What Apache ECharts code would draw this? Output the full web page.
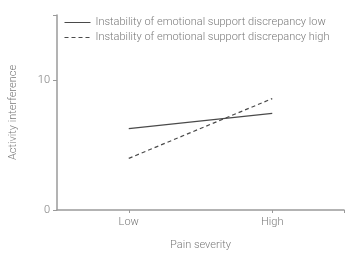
<!DOCTYPE html>
<html><head><meta charset="utf-8">
<script src="https://cdn.jsdelivr.net/npm/echarts@6/dist/echarts.min.js"></script>
<style>html,body{margin:0;padding:0;background:#fff}#c{width:346px;height:256px}</style>
</head><body><div id="c"></div>
<script>
const categories = ['Low', 'High'];
const seriesNames = ['Instability of emotional support discrepancy low', 'Instability of emotional support discrepancy high'];
const lowValues = [6.26, 7.43];
const highValues = [3.97, 8.57];
const yTickLabels = [0, 10];

const font = 'Roboto';
const textColor = '#7a7a7a';
const axisColor = '#9a9a9a';
const chart = echarts.init(document.getElementById('c'));
const toPairs = vals => vals.map((v, i) => [i, v]);
chart.setOption({
  animation: false,
  textStyle: { fontFamily: font },
  grid: { left: 44, right: 2, top: 15, bottom: 44, containLabel: false },
  legend: {
    orient: 'vertical', left: 59, top: 12, itemWidth: 26, itemHeight: 11, itemGap: 4,
    itemStyle: { opacity: 0 },
    lineStyle: { width: 1 },
    textStyle: { color: textColor, fontSize: 11, fontFamily: font, fontWeight: 300 },
    data: seriesNames
  },
  xAxis: {
    type: 'value', min: -0.5, max: 1.5, interval: 0.5,
    name: 'Pain severity', nameLocation: 'middle', nameGap: 30,
    nameTextStyle: { color: textColor, fontSize: 11, fontWeight: 300 },
    axisLine: { onZero: false, lineStyle: { color: axisColor, width: 1.5 } },
    axisTick: { show: true, length: 3, customValues: [0, 1, 1.5], lineStyle: { color: axisColor } },
    axisLabel: { customValues: [0, 1], formatter: v => categories[Math.round(v)] || '', color: textColor, fontSize: 11, margin: 7, fontWeight: 300 },
    splitLine: { show: false }
  },
  yAxis: {
    type: 'value', min: 0, max: 15, interval: 5,
    name: 'Activity interference', nameLocation: 'middle', nameGap: 38,
    nameTextStyle: { color: textColor, fontSize: 11, fontWeight: 300 },
    axisLine: { show: true, onZero: false, lineStyle: { color: axisColor, width: 1.5 } },
    axisTick: { show: true, length: 4, customValues: [0, 10, 15], lineStyle: { color: axisColor } },
    axisLabel: { customValues: yTickLabels, color: textColor, fontSize: 11, margin: 7, fontWeight: 300 },
    splitLine: { show: false }
  },
  series: [
    { name: seriesNames[0], type: 'line', data: toPairs(lowValues), symbol: 'none',
      lineStyle: { color: '#4a4a4a', width: 1.2, type: 'solid' }, itemStyle: { color: '#4a4a4a' } },
    { name: seriesNames[1], type: 'line', data: toPairs(highValues), symbol: 'none',
      lineStyle: { color: '#4a4a4a', width: 1.2, type: [4, 3] }, itemStyle: { color: '#4a4a4a' } }
  ]
});
</script></body></html>
